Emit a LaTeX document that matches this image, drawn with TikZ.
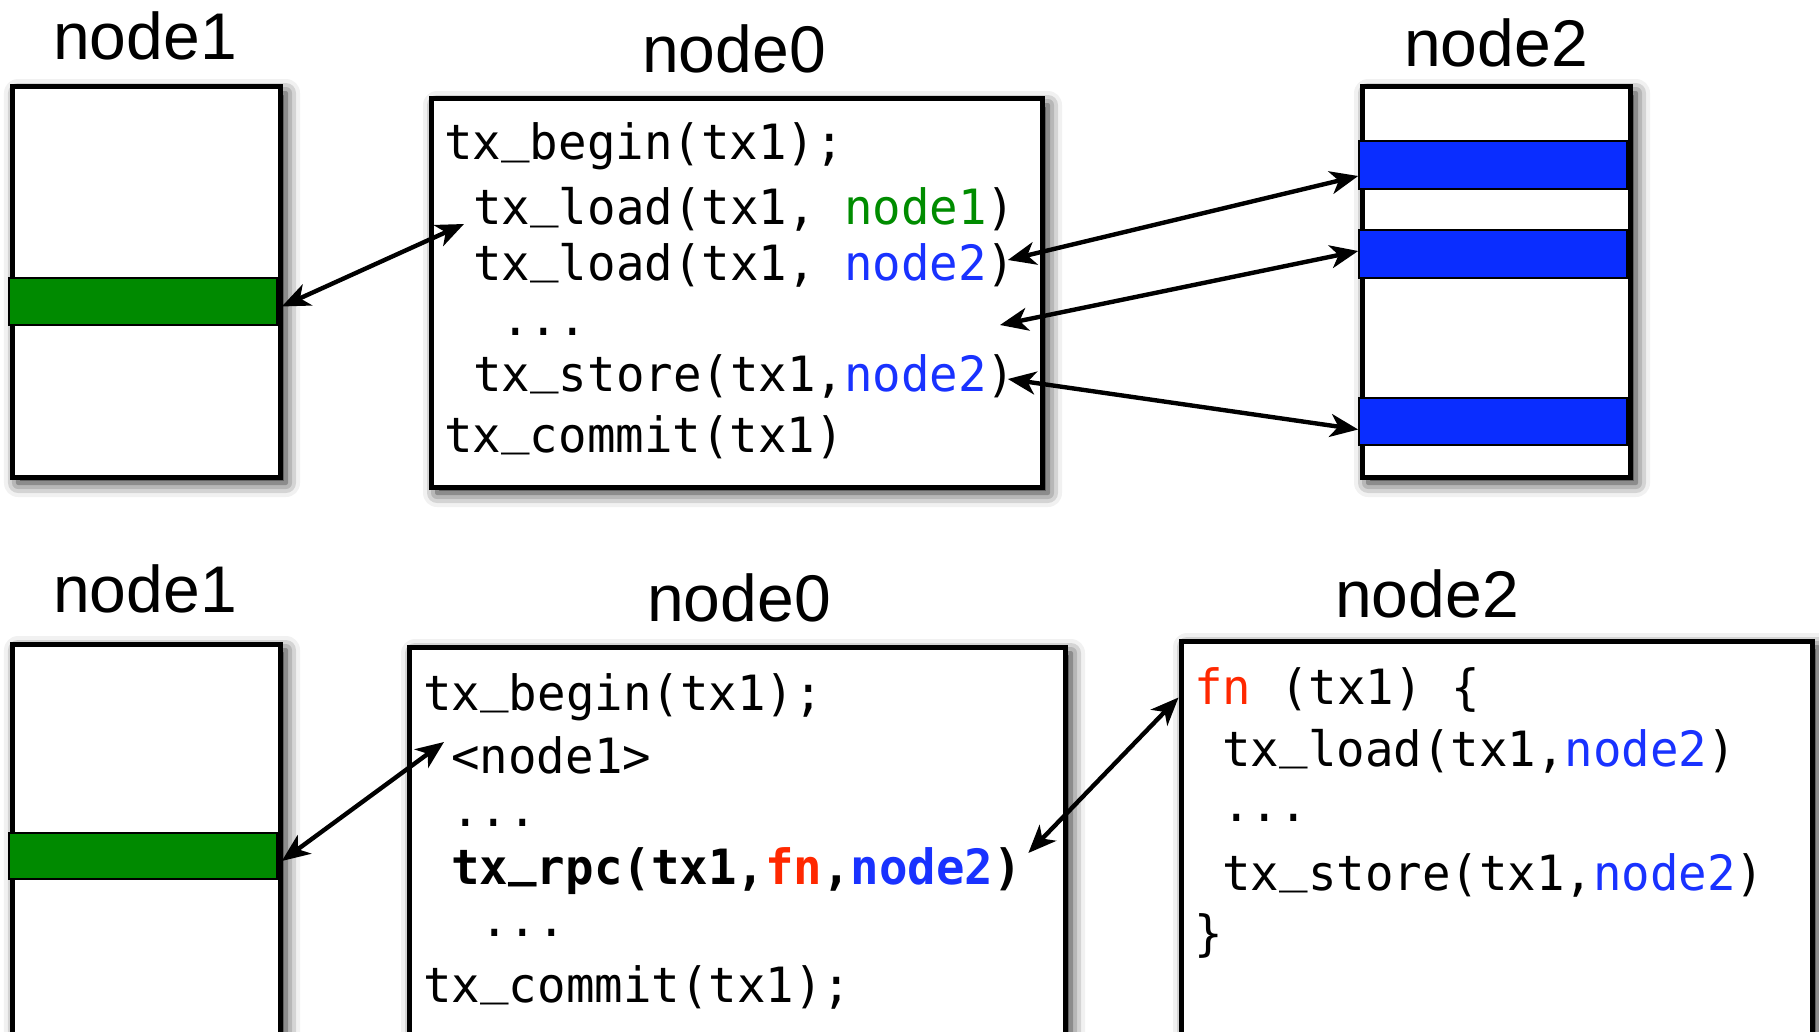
\documentclass[tikz,border=0pt]{standalone}
\usepackage{fontspec}
\setmainfont{Liberation Sans}
\newfontfamily\codefont[FakeStretch=0.975]{DejaVu Sans Mono}
\usetikzlibrary{arrows.meta,fit,shadows.blur,calc}

\definecolor{bandgreen}{RGB}{0,138,0}
\definecolor{bandblue}{RGB}{10,45,255}
\definecolor{codegreen}{RGB}{0,140,0}
\definecolor{codeblue}{RGB}{25,50,255}
\definecolor{codered}{RGB}{255,40,0}

% underscore sitting on the baseline
\newcommand\usc{\raisebox{0.17em}{\_}}

\begin{document}
\begin{tikzpicture}[x=0.5pt,y=-0.5pt,
  box/.style={draw=black, line width=2.5pt, fill=white, inner sep=0pt,
    blur shadow={shadow xshift=3pt, shadow yshift=-3pt,
                 shadow blur radius=7pt, shadow opacity=90}},
  band/.style={draw=black, line width=0.8pt, inner sep=0pt},
  title/.style={anchor=base, inner sep=0pt, font=\fontsize{33pt}{33pt}\selectfont},
  code/.style={anchor=base west, inner sep=0pt,
    font=\codefont\fontsize{24.3pt}{24.3pt}\selectfont},
  tip/.tip={Stealth[length=14pt,width=11.5pt,inset=4pt]},
  link/.style={line width=2.2pt, tip-tip}
]
\clip (0,0) rectangle (1819,1032);

% ---------- upper row: plain transaction ----------
\node[title] (u1title) at (145,60) {node1};
\node[title] (u0title) at (734,73) {node0};
\node[title] (u2title) at (1496,67) {node2};

\node[box, fit={(12,87) (280,477)}] (u1) {};
\node[box, fit={(431,99) (1042,487)}] (u0) {};
\node[box, fit={(1362,87) (1630,477)}] (u2) {};

\node[band, fill=bandgreen, fit={(9,278) (277,325)}] (u1obj) {};
\node[band, fill=bandblue, fit={(1359,141) (1627,189)}] (u2objA) {};
\node[band, fill=bandblue, fit={(1359,230) (1627,278)}] (u2objB) {};
\node[band, fill=bandblue, fit={(1359,398) (1627,445)}] (u2objC) {};

\node[code] (ua) at (444,160) {tx\usc begin(tx1);};
\node[code] (ub) at (473,225) {tx\usc load(tx1, \textcolor{codegreen}{node1})};
\node[code] (uc) at (473,280) {tx\usc load(tx1, \textcolor{codeblue}{node2})};
\node[code] (ud) at (501,335) {...};
\node[code] (ue) at (473,391) {tx\usc store(tx1,\textcolor{codeblue}{node2})};
\node[code] (uf) at (444,452) {tx\usc commit(tx1)};
\coordinate (ugap) at (1000,325);

\draw[link] ($(u1obj.east)+(4,5)$) -- ($(ub.base west)+(-9,-1)$);
\draw[link] ($(uc.base east)+(-8,-20)$) -- ($(u2objA.west)+(0,11)$);
\draw[link] (ugap) -- ($(u2objB.west)+(0,-3)$);
\draw[link] ($(ue.base east)+(-8,-12)$) -- ($(u2objC.west)+(0,8)$);

% ---------- lower row: shipping the function to node2 ----------
\node[title] (l1title) at (145,612) {node1};
\node[title] (l0title) at (739,621) {node0};
\node[title] (l2title) at (1427,617) {node2};

\node[box, fit={(12,644) (280,1070)}] (l1) {};
\node[box, fit={(409,647) (1065,1070)}] (l0) {};
\node[box, fit={(1181,641) (1812,1070)}] (l2) {};

\node[band, fill=bandgreen, fit={(9,833) (277,879)}] (l1obj) {};

\node[code] (la) at (423,710) {tx\usc begin(tx1);};
\node[code] (lb) at (451,773) {<node1>};
\node[code] (lc) at (451,826) {...};
\node[code, font=\codefont\bfseries\fontsize{24.3pt}{24.3pt}\selectfont] (ld) at (451,884)
  {tx\usc rpc(tx1,\textcolor{codered}{fn},\textcolor{codeblue}{node2})};
\node[code] (le) at (480,936) {...};
\node[code] (lf) at (423,1002) {tx\usc commit(tx1);};

\node[code] (fa) at (1194,704) {\textcolor{codered}{fn} (tx1) \{};
\node[code] (fb) at (1222,766) {tx\usc load(tx1,\textcolor{codeblue}{node2})};
\node[code] (fc) at (1222,821) {...};
\node[code] (fd) at (1222,890) {tx\usc store(tx1,\textcolor{codeblue}{node2})};
\node[code] (fe) at (1194,950) {\}};

\draw[link] ($(l1obj.east)+(4,5)$) -- ($(lb.base west)+(-7,-31)$);
\draw[link] ($(ld.base east)+(6,-31)$) -- ($(l2.north west)+(0,59)$);
\end{tikzpicture}
\end{document}
